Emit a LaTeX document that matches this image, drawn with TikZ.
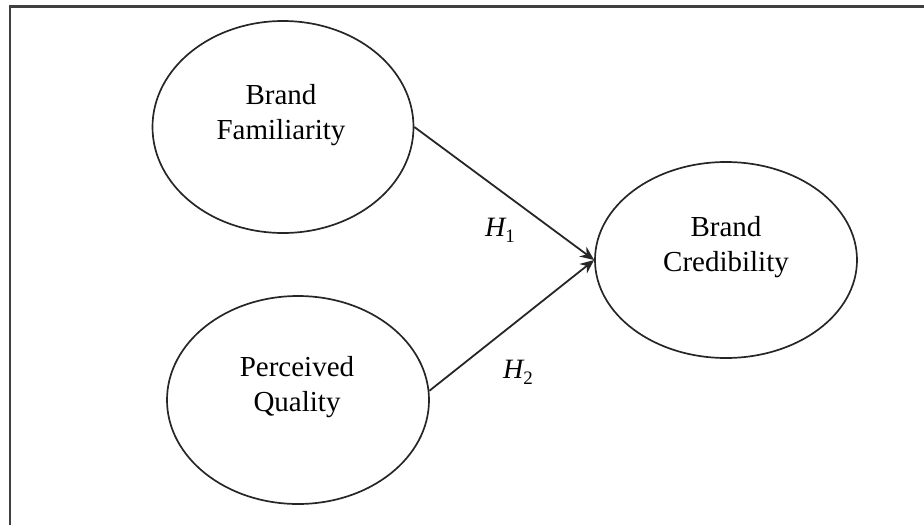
\documentclass[tikz,border=0pt]{standalone}
\usepackage{fontspec}
\setmainfont{Liberation Serif}
\usetikzlibrary{shapes.geometric,arrows.meta}
\begin{document}
\begin{tikzpicture}[x=1pt,y=-1pt,
  construct/.style={draw=black!85,line width=1.7pt,ellipse,inner sep=0pt},
  ctext/.style={align=center,font=\fontsize{29}{35}\selectfont,inner sep=0pt},
  hlabel/.style={font=\fontsize{28}{30}\selectfont,inner sep=0pt},
  path/.style={draw=black!85,line width=1.8pt,-{Stealth[length=14pt,width=12pt]}}]
\useasboundingbox (0,0) rectangle (924,525);
\draw[line width=2.8pt,draw=black!75] (10,525) -- (10,6.5) -- (924,6.5);
\node[construct,minimum width=261pt,minimum height=212pt] (BF) at (283,127) {};
\node[construct,minimum width=262pt,minimum height=208pt] (PQ) at (298,400) {};
\node[construct,minimum width=262pt,minimum height=196pt] (BC) at (726,260) {};
\node[ctext] (tBF) at (281,115) {Brand\\Familiarity};
\node[ctext] (tPQ) at (297,387) {Perceived\\Quality};
\node[ctext] (tBC) at (726,247) {Brand\\Credibility};
\draw[path] (BF.east) -- (BC.west);
\draw[path] (PQ.4) -- (BC.west);
\node[hlabel] (H1) at (500,230) {\itshape H\raisebox{-0.22em}{\fontsize{19}{20}\selectfont\upshape 1}};
\node[hlabel] (H2) at (518,372) {\itshape H\raisebox{-0.22em}{\fontsize{19}{20}\selectfont\upshape 2}};
\end{tikzpicture}
\end{document}
